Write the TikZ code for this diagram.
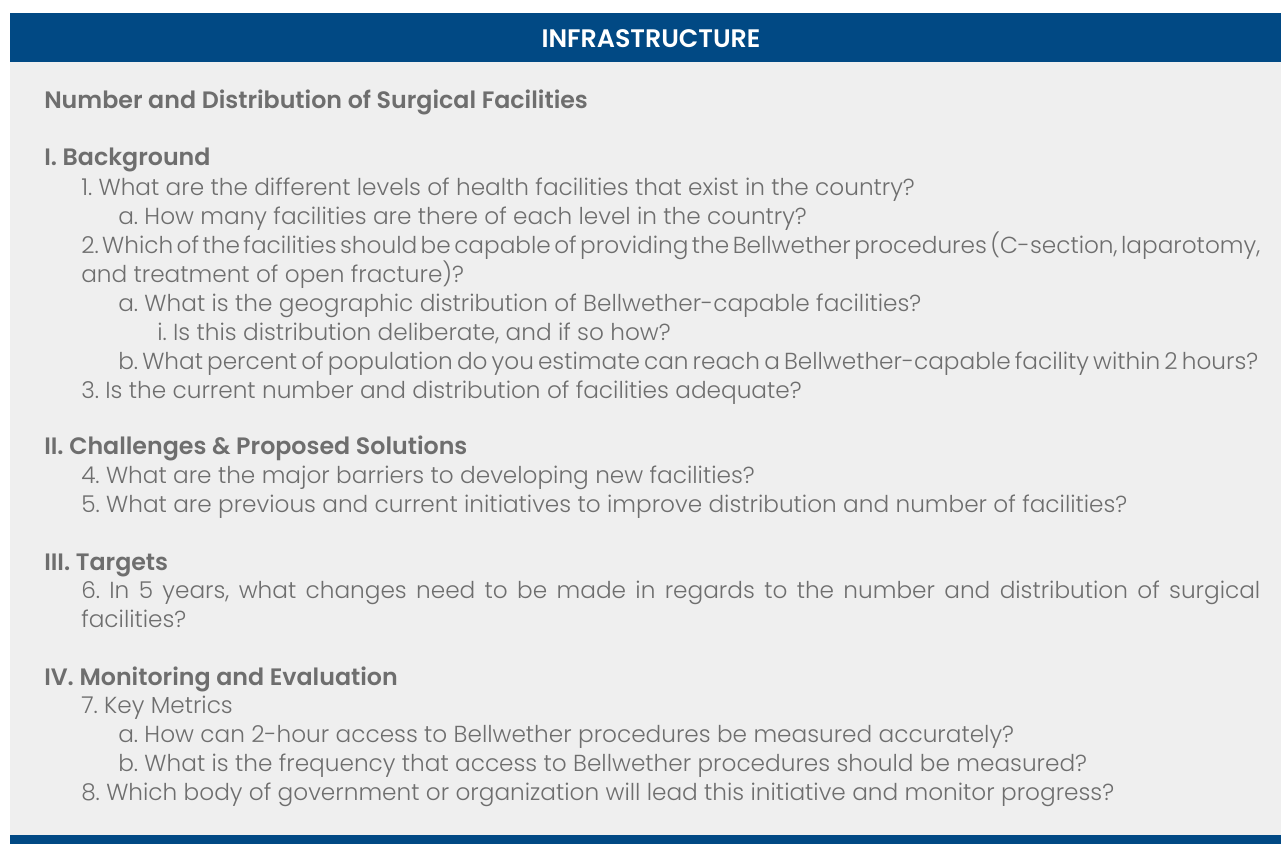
\documentclass[tikz,border=0pt]{standalone}
\usepackage{fontspec}
\setmainfont{Poppins}[UprightFont=* Light, BoldFont=* SemiBold]
\usepackage{xcolor}
\usepackage{tikz}
\usetikzlibrary{positioning}
\definecolor{barblue}{RGB}{1,73,132}
\definecolor{panelgray}{RGB}{239,239,239}
\definecolor{textgray}{RGB}{110,110,110}
\frenchspacing
\newcommand{\fullline}[2]{{\spaceskip=0.28em plus 1em minus 0.25em\hbox to #1{#2}}}

\begin{document}
\begin{tikzpicture}[x=0.75pt,y=0.75pt,yscale=-1,xscale=1,
  every node/.style={inner sep=0pt,anchor=base west,text=textgray},
  heading/.style={font=\fontsize{17.8}{21}\selectfont\bfseries},
  item/.style={font=\fontsize{17.4}{21}\selectfont}]
  \path[use as bounding box] (0,0) rectangle (1281,844);

  %Shape: Rectangle [panel]
  \fill [white] (0,0) rectangle (1281,844);
  \fill [panelgray] (10,62) rectangle (1281,835);
  %Shape: Rectangle [top bar]
  \fill [barblue] (10,13) rectangle (1281,62);
  %Shape: Rectangle [bottom bar]
  \fill [barblue] (10,835) rectangle (1281,844);

  % Text Node
  \node [anchor=base,text=white,font=\fontsize{19}{22}\selectfont\bfseries] (title) at (651,47) {INFRASTRUCTURE};
  % Text Node
  \node [heading] (topic) at (44,108) {Number and Distribution of Surgical Facilities};

  % Text Node
  \node [heading] (secI) at (44,165) {I. Background};
  \node [item] (q1) at (81,195) {1. What are the different levels of health facilities that exist in the country?};
  \node [item] (q1a) at (118,224) {a. How many facilities are there of each level in the country?};
  \node [item] (q2) at (81,253) {\fullline{884.25pt}{2. Which of the facilities should be capable of providing the Bellwether procedures (C-section, laparotomy,}};
  \node [item] (q2b) at (81,282) {and treatment of open fracture)?};
  \node [item] (q2a) at (118,311) {a. What is the geographic distribution of Bellwether-capable facilities?};
  \node [item] (q2ai) at (157,340) {i. Is this distribution deliberate, and if so how?};
  \node [item] (q2bb) at (118,369) {\fullline{855pt}{b. What percent of population do you estimate can reach a Bellwether-capable facility within 2 hours?}};
  \node [item] (q3) at (81,398) {3. Is the current number and distribution of facilities adequate?};

  % Text Node
  \node [heading] (secII) at (44,454) {II. Challenges \& Proposed Solutions};
  \node [item] (q4) at (81,483) {4. What are the major barriers to developing new facilities?};
  \node [item] (q5) at (81,512) {5. What are previous and current initiatives to improve distribution and number of facilities?};

  % Text Node
  \node [heading] (secIII) at (44,570) {III. Targets};
  \node [item] (q6) at (81,598) {\fullline{884.25pt}{6. In 5 years, what changes need to be made in regards to the number and distribution of surgical}};
  \node [item] (q6b) at (81,627) {facilities?};

  % Text Node
  \node [heading] (secIV) at (44,685) {IV. Monitoring and Evaluation};
  \node [item] (q7) at (81,713) {7. Key Metrics};
  \node [item] (q7a) at (118,742) {a. How can 2-hour access to Bellwether procedures be measured accurately?};
  \node [item] (q7b) at (118,771) {b. What is the frequency that access to Bellwether procedures should be measured?};
  \node [item] (q8) at (81,800) {8. Which body of government or organization will lead this initiative and monitor progress?};

\end{tikzpicture}
\end{document}
